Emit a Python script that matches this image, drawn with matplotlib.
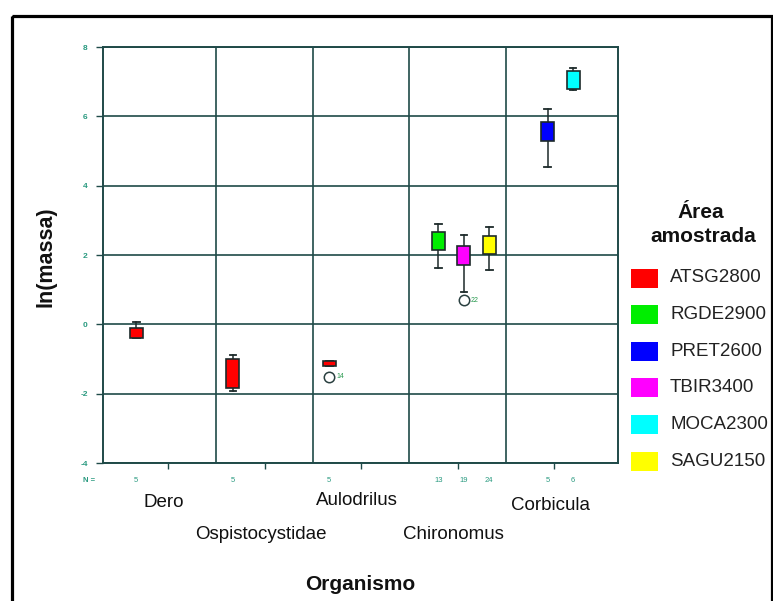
import matplotlib
matplotlib.use("Agg")
import matplotlib.pyplot as plt
from matplotlib.patches import Rectangle
from matplotlib.transforms import blended_transform_factory

plt.rcParams['font.family'] = ['Liberation Sans', 'DejaVu Sans']

# ---------------- data ----------------
categories = ["Dero", "Ospistocystidae", "Aulodrilus", "Chironomus", "Corbicula"]
groups = ["ATSG2800", "RGDE2900", "PRET2600", "TBIR3400", "MOCA2300", "SAGU2150"]
group_colors = ["#ff0000", "#00ee00", "#0000ff", "#ff00ff", "#00ffff", "#ffff00"]

box_category = [0, 1, 2, 3, 3, 3, 4, 4]
box_group = [0, 0, 0, 1, 3, 5, 2, 4]
whislo = [-0.40, -1.93, -1.19, 1.62, 0.94, 1.57, 4.54, 6.77]
q1 = [-0.38, -1.83, -1.19, 2.13, 1.71, 2.02, 5.30, 6.80]
med = [-0.26, -1.34, -1.13, 2.39, 1.96, 2.34, 5.43, 7.09]
q3 = [-0.12, -0.99, -1.06, 2.66, 2.25, 2.54, 5.84, 7.31]
whishi = [0.08, -0.88, -1.06, 2.89, 2.57, 2.81, 6.21, 7.40]
n_counts = [5, 5, 5, 13, 19, 24, 5, 6]
outlier_vals = [[], [], [-1.51], [], [0.70], [], [], []]
outlier_ids = [[], [], ["14"], [], ["22"], [], [], []]

y_ticks = [-4, -2, 0, 2, 4, 6, 8]

# ---------------- style ----------------
W, H = 773, 601
grid_col = "#1f4a48"
tick_col = "#2a9a80"
edge_col = "#1c2a2a"
slot = 0.1316
box_w = 0.135

fig = plt.figure(figsize=(W / 100, H / 100), dpi=100)
fig.patch.set_facecolor("white")

# overlay for frame and legend (pixel coordinates)
ov = fig.add_axes([0, 0, 1, 1], zorder=0)
ov.set_xlim(0, W)
ov.set_ylim(H, 0)
ov.axis("off")
ov.add_patch(Rectangle((11.5, 16), 760, 600, fill=False, lw=2.3, ec="black"))

ax = fig.add_axes([103 / W, 1 - 463 / H, 515 / W, 416 / H], zorder=1)
ax.set_facecolor("none")

positions = [box_category[i] + (box_group[i] - 2.5) * slot for i in range(len(med))]
stats = []
for i in range(len(med)):
    stats.append(dict(whislo=whislo[i], q1=q1[i], med=med[i], q3=q3[i],
                      whishi=whishi[i], fliers=outlier_vals[i]))

bp = ax.bxp(stats, positions=positions, widths=box_w, capwidths=box_w * 0.5,
            patch_artist=True, showfliers=True, manage_ticks=False,
            boxprops=dict(ec=edge_col, lw=1.2),
            medianprops=dict(color=edge_col, lw=1.1),
            whiskerprops=dict(color=edge_col, lw=1.1),
            capprops=dict(color=edge_col, lw=1.3),
            flierprops=dict(marker="o", mfc="none", mec="#2a4040", ms=7.5, mew=1.1))
for i, b in enumerate(bp["boxes"]):
    b.set_facecolor(group_colors[box_group[i]])
    b.set_zorder(3)

for i in range(len(med)):
    for v, lab in zip(outlier_vals[i], outlier_ids[i]):
        ax.annotate(lab, (positions[i], v), xytext=(5, 0), textcoords="offset points",
                    fontsize=5, color="#2a9a50", va="center", ha="left")

ax.set_xlim(-0.674, 4.663)
ax.set_ylim(-4, 8)
ax.set_yticks(y_ticks)
ax.set_yticklabels([str(t) for t in y_ticks], fontweight="bold")
ax.set_xticks(range(len(categories)))
ax.set_xticklabels([])
ax.tick_params(axis="y", length=5, width=1, color=grid_col, labelsize=6,
               labelcolor=tick_col, pad=6)
ax.tick_params(axis="x", length=4, width=1, color=grid_col)
ax.grid(axis="y", color=grid_col, lw=1.2, zorder=0)
ax.set_axisbelow(True)
for k in range(len(categories) - 1):
    ax.axvline(k + 0.5, color=grid_col, lw=1.2, zorder=0)
for s in ax.spines.values():
    s.set_color(grid_col)
    s.set_linewidth(1.4)

trans = blended_transform_factory(ax.transData, ax.transAxes)
# N row
ax.text(-0.016, -0.041, "N =", transform=ax.transAxes, fontsize=5.5,
        color=tick_col, ha="right", va="center", fontweight="bold")
for i in range(len(med)):
    ax.text(positions[i], -0.041, str(n_counts[i]), transform=trans, fontsize=5.5,
            color=tick_col, ha="center", va="center")

# category labels (staggered)
label_y = [-0.094, -0.173, -0.089, -0.173, -0.101]
for i, c in enumerate(categories):
    ax.text(i - 0.04, label_y[i], c, transform=trans, fontsize=13.5,
            ha="center", va="center", color="#111111")

fig.text(360 / W, 1 - 584 / H, "Organismo", fontsize=15, fontweight="bold",
         ha="center", va="center", color="#111111")
fig.text(46 / W, 1 - 257 / H, "ln(massa)", fontsize=15.5, fontweight="bold",
         rotation=90, ha="center", va="center", color="#111111")

# legend
ov.text(701, 213, "Área", fontsize=15, fontweight="bold", ha="center", va="center",
        color="#111111")
ov.text(703, 237, "amostrada", fontsize=15, fontweight="bold", ha="center",
        va="center", color="#111111")
for i, g in enumerate(groups):
    yc = 278 + 36.6 * i
    ov.add_patch(Rectangle((631, yc - 9.5), 27, 19, fc=group_colors[i], ec="none"))
    ov.text(670, yc, g, fontsize=13.5, ha="left", va="center", color="#222222")

fig.savefig("out.png", dpi=100, facecolor="white")
